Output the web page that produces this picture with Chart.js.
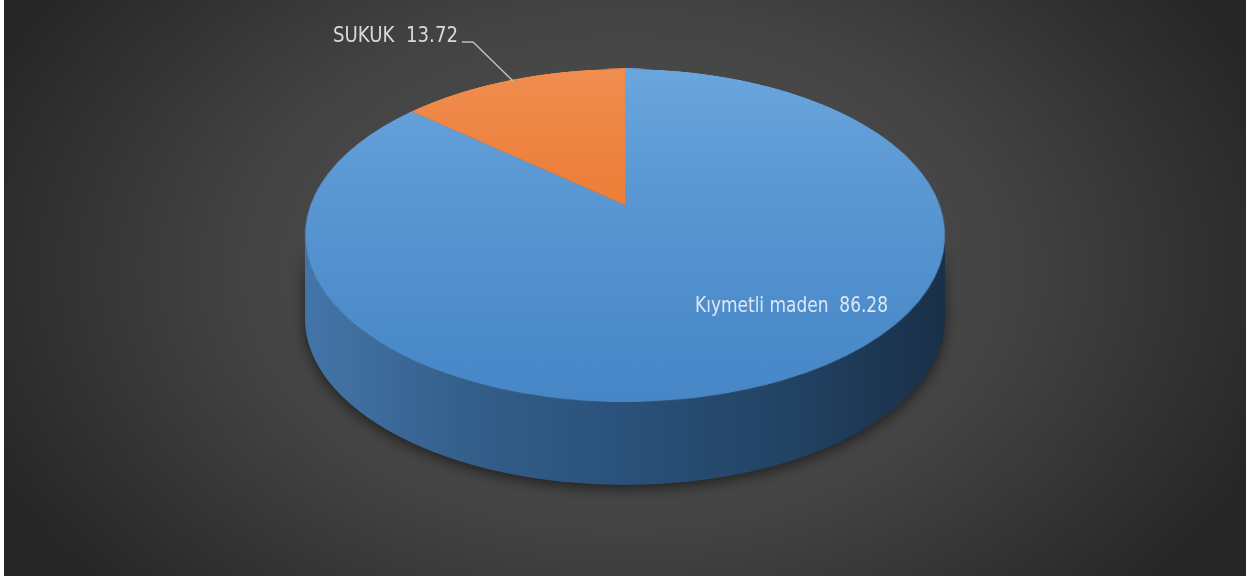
<!DOCTYPE html>
<html>
<head>
<meta charset="utf-8">
<script src="https://cdn.jsdelivr.net/npm/chart.js@4.4.1/dist/chart.umd.min.js"></script>
<style>
  html, body { margin: 0; padding: 0; background: #ffffff; }
  canvas { display: block; }
</style>
</head>
<body>
<canvas id="pie" width="1246" height="579"></canvas>
<script>
// data
const labels = ["Kıymetli maden", "SUKUK"];
const values = [86.28, 13.72];

// look of the tilted disc
const topColors = [["#6ba6dd", "#4787c8"], ["#f08e50", "#ea6e1f"]];
// perspective of the top face: apex (centre of the pie) and the fitted projection
const PX = 625, PY = 205, K = 314.6, B = 160.9, C = -0.183;
// outline of the projected disc
const EX = 625, EY = 235.5, RX = 320, RY = 166.5, DEPTH = 83;
const FONT = '"Liberation Sans Narrow", "DejaVu Sans Condensed", "Open Sans", sans-serif';

function topFill(c) {
  const chart = c.chart;
  const area = chart.chartArea;
  const cols = topColors[c.dataIndex];
  if (!area) return cols[0];
  const g = chart.ctx.createLinearGradient(0, area.top, 0, area.bottom);
  g.addColorStop(0, cols[0]);
  g.addColorStop(1, cols[1]);
  return g;
}

function paintBackground(ctx, w, h) {
  ctx.save();
  ctx.fillStyle = "#ffffff";
  ctx.fillRect(0, 0, w, h);
  ctx.beginPath();
  ctx.rect(4, 0, w - 4, h - 3);
  ctx.clip();
  ctx.translate(623, 270);
  ctx.scale(1.45, 1);
  const g = ctx.createRadialGradient(0, 0, 0, 0, 0, 480);
  g.addColorStop(0, "#555555");
  g.addColorStop(0.55, "#434343");
  g.addColorStop(1, "#262626");
  ctx.fillStyle = g;
  ctx.fillRect(-500, -300, 1000, 620);
  ctx.restore();
}

function paintSide(ctx) {
  const side = ctx.createLinearGradient(EX - RX, 0, EX + RX, 0);
  side.addColorStop(0, "#4475a8");
  side.addColorStop(0.25, "#345f8b");
  side.addColorStop(0.5, "#2a5179");
  side.addColorStop(0.75, "#224364");
  side.addColorStop(1, "#1a2f48");
  ctx.save();
  ctx.shadowColor = "rgba(0,0,0,0.55)";
  ctx.shadowBlur = 14;
  ctx.shadowOffsetY = 4;
  ctx.fillStyle = side;
  ctx.beginPath();
  ctx.ellipse(EX, EY, RX, RY, 0, 0, Math.PI);
  ctx.lineTo(EX - RX, EY + DEPTH);
  ctx.ellipse(EX, EY + DEPTH, RX, RY, 0, Math.PI, 0, true);
  ctx.closePath();
  ctx.fill();
  ctx.restore();
}

function rowToV(y) {
  const d = y - PY;
  return Math.max(-1, Math.min(1, d / (B - C * d)));
}

function fitText(ctx, text, x, y, width) {
  const w = ctx.measureText(text).width;
  ctx.save();
  ctx.translate(x, y);
  ctx.scale(Math.min(1, width / w), 1);
  ctx.fillText(text, 0, 0);
  ctx.restore();
  return Math.min(w, width);
}

const pie3d = {
  id: "pie3d",
  afterDatasetsDraw(chart) {
    const ctx = chart.ctx;
    const cv = chart.canvas;
    const a = chart.getDatasetMeta(0).data[0];
    const r = a.outerRadius;
    // keep the round pie the library drew, then lay it down in perspective
    const off = document.createElement("canvas");
    off.width = cv.width;
    off.height = cv.height;
    off.getContext("2d").drawImage(cv, 0, 0);
    ctx.save();
    ctx.clearRect(0, 0, cv.width, cv.height);
    paintBackground(ctx, cv.width, cv.height);
    paintSide(ctx);
    ctx.imageSmoothingEnabled = true;
    const yTop = Math.floor(PY - B / (1 - C)) - 1;
    const yBot = Math.ceil(PY + B / (1 + C)) + 1;
    for (let y = yTop; y < yBot; y++) {
      const v0 = rowToV(y), v1 = rowToV(y + 1);
      if (v1 <= v0) continue;
      const s = K / (r * (1 + C * (v0 + v1) / 2));
      const sy0 = a.y + v0 * r, sy1 = a.y + v1 * r;
      ctx.drawImage(off, 0, sy0, cv.width, sy1 - sy0,
        PX - a.x * s, y, cv.width * s, 1);
    }
    ctx.restore();

    // labels
    ctx.save();
    ctx.font = "21px " + FONT;
    ctx.textBaseline = "alphabetic";
    ctx.fillStyle = "#d9d9d9";
    const t1 = labels[1] + "  " + values[1].toFixed(2);
    const w1 = fitText(ctx, t1, 333, 42, 125);
    ctx.strokeStyle = "#bfbfbf";
    ctx.lineWidth = 1.5;
    ctx.beginPath();
    ctx.moveTo(333 + w1 + 4, 42);
    ctx.lineTo(473, 42);
    ctx.lineTo(513, 81);
    ctx.stroke();
    ctx.fillStyle = "#dde8f4";
    const t0 = labels[0] + "  " + values[0].toFixed(2);
    fitText(ctx, t0, 695, 312, 193);
    ctx.restore();
  }
};

new Chart(document.getElementById("pie"), {
  type: "pie",
  data: {
    labels: labels,
    datasets: [{
      data: values,
      backgroundColor: topFill,
      borderWidth: 0,
      clip: false
    }]
  },
  options: {
    responsive: false,
    animation: false,
    events: [],
    plugins: {
      legend: { display: false },
      tooltip: { enabled: false }
    }
  },
  plugins: [pie3d]
});
</script>
</body>
</html>
